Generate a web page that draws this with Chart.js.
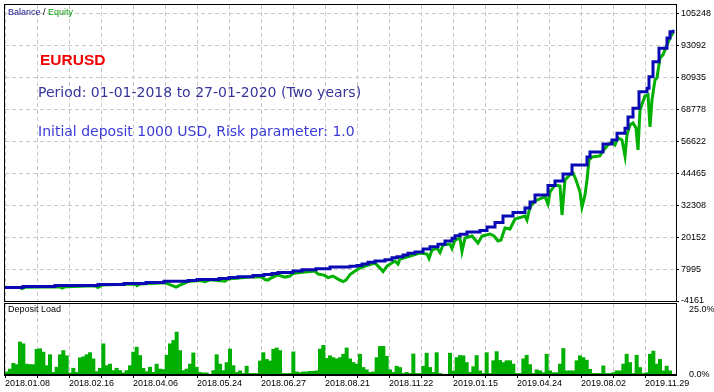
<!DOCTYPE html>
<html>
<head>
<meta charset="utf-8">
<script src="https://cdn.jsdelivr.net/npm/chart.js@4.4.1/dist/chart.umd.min.js"></script>
<style>
html, body { margin: 0; padding: 0; background: #fff; }
#wrap { position: relative; width: 714px; height: 392px; overflow: hidden; font-family: "Liberation Sans", Arial, sans-serif; }
canvas { position: absolute; left: 0; }
#main { top: 0; z-index: 2; }
#sub { top: 302px; z-index: 1; }
.note { position: absolute; white-space: nowrap; z-index: 3; }
.small { font-size: 9px; line-height: 9px; color: #000; }
.big { font-family: "DejaVu Sans", sans-serif; font-size: 14px; line-height: 14px; }
</style>
</head>
<body>
<div id="wrap">
  <canvas id="sub" width="714" height="90"></canvas>
  <canvas id="main" width="714" height="312"></canvas>
  <div class="note small" style="left:8px;top:8px;"><span style="color:#14148c">Balance</span> / <span style="color:#10a010">Equity</span></div>
  <div class="note" style="left:40px;top:52px;font-weight:bold;font-size:15.5px;line-height:16px;color:#f00000;">EURUSD</div>
  <div class="note big" style="left:38px;top:85px;color:#35359c;">Period: 01-01-2018 to 27-01-2020 (Two years)</div>
  <div class="note big" style="left:38px;top:124px;color:#3a3ad6;">Initial deposit 1000 USD, Risk parameter: 1.0</div>
  <div class="note small" style="left:8px;top:305px;">Deposit Load</div>
</div>
<script>
// x axis = deal number, y = account value in USD
var balanceTrades = [0,18,50,93,119,141,159,183,192,214,
    224,233,248,259,267,273,288,297,311,325,
    345,352,357,363,370,380,387,392,398,403,
    410,418,425,433,440,447,450,455,462,475,
    482,490,498,508,520,525,530,543,550,558,
    567,582,585,598,607,612,620,623,628,634,
    642,644,648,654,662,665,668];
var balanceValues = [1000,1400,1700,2080,2460,2840,3340,3600,3990,4370,
    4750,5090,5510,5890,6270,6650,7220,7720,8100,8750,
    9010,9320,9890,10530,11030,11520,12290,12670,13310,13960,
    14460,15600,16470,17390,18640,19670,20660,21190,22070,22640,
    23970,25690,28160,29490,31210,33490,36160,39770,41490,44150,
    47580,50620,52530,55570,57090,59650,61550,65850,69160,75370,
    76780,81080,86790,92000,95810,98210,98970];

var equityTrades = [0,15,17,20,55,57,61,90,93,97,
    130,132,135,160,171,175,183,195,200,205,
    220,223,245,257,260,263,266,270,273,280,
    285,288,295,310,313,319,323,328,333,338,
    341,345,350,355,363,370,375,378,382,390,
    393,395,405,415,422,424,427,432,435,438,
    445,447,450,455,457,460,467,473,477,485,
    489,493,496,500,505,510,520,522,525,530,
    540,543,545,550,555,557,560,565,568,571,
    575,577,580,582,584,587,595,597,602,607,
    610,613,617,620,622,625,628,631,633,635,
    640,643,645,647,650,652,655,658,662,665,
    668];
var equityValues = [1000,1000,560,1050,1250,750,1300,1650,940,1900,
    2300,1700,2350,2800,1130,1890,3220,3600,3220,3900,
    3410,4170,5000,4930,3980,3800,4550,5320,5700,4930,
    5320,6270,6650,7220,6080,5700,4750,5320,4180,3230,
    3800,5890,7220,8360,9510,10270,8360,7030,9130,11030,
    9890,11790,12930,14080,13700,11980,15220,15980,14270,17120,
    17500,15790,19020,19790,14650,19790,20550,17880,20550,21310,
    20550,18640,19020,23590,23210,27020,28160,26640,31590,33870,
    35500,32730,37300,39960,39580,28540,41870,43900,44530,41870,
    37300,31590,36160,41870,49480,50620,51000,52530,54810,56330,
    55190,57860,57090,51000,59000,62810,63570,61660,53290,68520,
    73850,74230,62040,72320,79940,80700,88310,89450,93260,95930,
    97830];

// deposit load in %, one sample per bucket of deals
var depositLoad = [1.2,2.3,4.5,4.0,12.7,12.0,4.2,4.0,4.0,9.9,
    10.1,8.8,3.6,7.8,1.0,3.0,7.8,9.4,7.4,0.8,
    2.6,1.0,6.6,7.0,7.8,8.6,6.2,1.3,2.6,12.0,
    3.6,4.2,1.7,2.6,1.7,0.8,1.7,3.6,8.8,10.7,
    7.5,2.6,1.3,3.0,1.0,4.2,2.3,2.1,7.6,12.0,
    13.3,16.5,9.4,1.7,2.3,4.2,8.5,3.0,1.0,0.8,
    0.8,0.3,1.7,7.8,4.2,1.7,4.8,10.0,3.6,1.0,
    1.6,0.6,3.4,0.6,0.6,0.6,5.4,8.6,6.0,5.4,
    9.9,10.4,9.4,0.6,0.6,0.6,8.9,1.2,0.9,1.2,
    1.2,1.4,1.4,1.6,10.0,11.4,6.4,7.4,6.7,6.2,
    6.7,8.0,10.4,6.2,4.8,4.2,8.0,2.9,2.0,1.0,
    1.2,6.7,11.0,11.0,7.2,2.0,1.0,3.4,2.9,0.6,
    1.0,0.6,8.1,0.6,0.6,3.4,8.4,2.9,1.0,8.6,
    0.6,0.3,0.3,8.4,1.5,6.7,7.5,7.4,4.8,1.0,
    3.2,7.5,1.6,0.6,8.6,0.6,5.5,9.0,5.6,4.8,
    5.5,5.5,4.2,0.6,0.6,6.2,7.6,4.0,0.6,2.0,
    1.6,0.9,8.0,1.6,0.9,0.9,4.2,10.2,1.6,1.6,
    1.6,5.5,7.4,6.7,5.7,2.2,0.6,0.6,0.6,3.5,
    0.6,0.6,0.9,1.6,1.6,4.2,8.0,4.8,0.6,7.6,
    2.9,0.6,0.9,8.0,9.2,4.2,6.0,1.6,3.4,1.6,
    0.3];
var loadStart = 5 / 3;   // deal number of the first bucket
var loadStep = 10 / 3;   // deals per bucket

var dateLabels = ["2018.01.08", "2018.02.16", "2018.04.06", "2018.05.24", "2018.06.27", "2018.08.21",
    "2018.11.22", "2019.01.15", "2019.04.24", "2019.08.02", "2019.11.29"];
var gridTrades = [0,32,64,96,128,160,192,224,256,288,320,352,384,416,448,480,512,544,576,608,640];
var yTickValues = [-4161, 7995, 20152, 32308, 44465, 56622, 68778, 80935, 93092, 105248];
var loadTickValues = [0, 25];

var X_MAX = 671;
var Y_MIN = -4161;
var Y_MAX = 108400;
var LOAD_MAX = 27.3;

var GRID = "#c8c8c8";
var BLUE = "#0a0ab4";
var GREEN = "#00b000";
var FONT = { family: "Liberation Sans", size: 9 };

Chart.defaults.font.family = "Liberation Sans";
Chart.defaults.font.size = 9;

function framePlugin(thickBottom) {
    return {
        id: "frame",
        afterDraw: function (chart) {
            var a = chart.chartArea, ctx = chart.ctx;
            ctx.save();
            ctx.strokeStyle = "#000";
            ctx.lineWidth = 1;
            ctx.strokeRect(a.left - 0.5, a.top - 0.5, a.right - a.left + 1, a.bottom - a.top + 1);
            if (thickBottom) {
                ctx.fillStyle = "#000";
                ctx.fillRect(a.left - 1, a.bottom - 1, a.right - a.left + 2, 2);
            }
            ctx.restore();
        }
    };
}

function setTicks(values) {
    return function (scale) {
        scale.ticks = values.map(function (v) { return { value: v }; });
    };
}

// Balance / Equity panel
new Chart(document.getElementById("main"), {
    type: "line",
    data: {
        datasets: [
            {
                label: "Balance",
                data: balanceTrades.map(function (t, i) { return { x: t, y: balanceValues[i] }; }),
                borderColor: BLUE,
                borderWidth: 3,
                pointRadius: 0,
                stepped: "before",
                order: 0
            },
            {
                label: "Equity",
                data: equityTrades.map(function (t, i) { return { x: t, y: equityValues[i] }; }),
                borderColor: GREEN,
                borderWidth: 3,
                pointRadius: 0,
                tension: 0,
                order: 1
            }
        ]
    },
    options: {
        responsive: false,
        animation: false,
        events: [],
        layout: { padding: { left: 5, top: 5, right: 0, bottom: 11 } },
        plugins: { legend: { display: false }, tooltip: { enabled: false } },
        scales: {
            x: {
                type: "linear",
                min: 0,
                max: X_MAX,
                afterBuildTicks: setTicks(gridTrades),
                ticks: { display: false },
                grid: { color: GRID, drawTicks: false },
                border: { display: false, dash: [4, 3] },
                afterFit: function (s) { s.height = 0; s.paddingLeft = 0; s.paddingRight = 0; }
            },
            y: {
                position: "right",
                min: Y_MIN,
                max: Y_MAX,
                afterBuildTicks: setTicks(yTickValues),
                ticks: { font: FONT, color: "#000", padding: 2, callback: function (v) { return String(v); } },
                grid: { color: GRID, tickColor: "#000", tickLength: 3, tickBorderDash: [] },
                border: { display: false, dash: [4, 3] },
                afterFit: function (s) { s.width = 38; s.paddingTop = 0; s.paddingBottom = 0; }
            }
        }
    },
    plugins: [framePlugin(false)]
});

// Deposit Load panel
new Chart(document.getElementById("sub"), {
    type: "bar",
    data: {
        datasets: [{
            label: "Deposit Load",
            data: depositLoad.map(function (v, i) { return { x: loadStart + i * loadStep, y: v }; }),
            backgroundColor: GREEN,
            borderWidth: 0,
            barPercentage: 1,
            categoryPercentage: 1
        }]
    },
    options: {
        responsive: false,
        animation: false,
        events: [],
        layout: { padding: { left: 5, top: 2, right: 0, bottom: 0 } },
        plugins: { legend: { display: false }, tooltip: { enabled: false } },
        scales: {
            x: {
                type: "linear",
                offset: false,
                min: 0,
                max: X_MAX,
                afterBuildTicks: setTicks(gridTrades),
                ticks: {
                    font: FONT,
                    color: "#000",
                    padding: 0,
                    align: "start",
                    autoSkip: false,
                    maxRotation: 0,
                    callback: function (v) { return v % 64 === 0 ? dateLabels[v / 64] : ""; }
                },
                grid: { color: GRID, offset: false, tickColor: "#000", tickLength: 3, tickBorderDash: [] },
                border: { display: false, dash: [4, 3] },
                afterFit: function (s) { s.height = 17; s.paddingLeft = 0; s.paddingRight = 0; }
            },
            y: {
                position: "right",
                min: 0,
                max: LOAD_MAX,
                afterBuildTicks: setTicks(loadTickValues),
                ticks: { font: FONT, color: "#000", padding: 5, callback: function (v) { return v.toFixed(1) + "%"; } },
                grid: { display: false },
                border: { display: false },
                afterFit: function (s) { s.width = 38; s.paddingTop = 0; s.paddingBottom = 0; }
            }
        }
    },
    plugins: [framePlugin(true)]
});
</script>
</body>
</html>
